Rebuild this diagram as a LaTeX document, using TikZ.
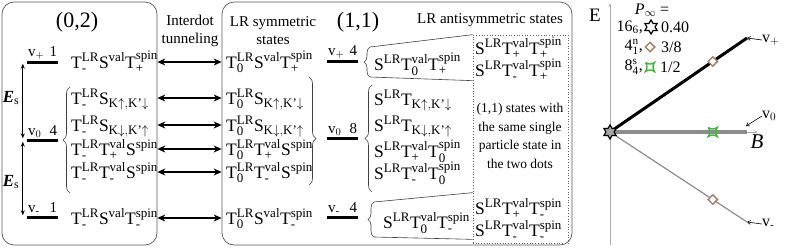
\documentclass[tikz,border=0pt]{standalone}
\usepackage{fix-cm}
\usepackage{amsmath}
\usepackage{fontspec}
\setmainfont{Liberation Serif}
\usepackage{xcolor}
\usepackage{tikz}
\usetikzlibrary{arrows.meta, positioning, shapes.geometric, decorations.pathreplacing, calc}

\DeclareMathSizes{17.5}{17.5}{13}{10}

\definecolor{dmdtan}{HTML}{A4876A}
\definecolor{sqgreen}{HTML}{3DB83D}
\definecolor{linegray}{gray}{0.55}
\definecolor{axisgray}{gray}{0.68}

\newcommand{\rmx}[1]{\text{#1}}
\newcommand{\ud}[3]{\rmx{#1}_{\rmx{#2}}^{\rmx{#3}}}
\newcommand{\uo}[2]{\rmx{#1}^{\rmx{#2}}}

\tikzset{concsq/.pic={\draw[sqgreen, line width=1.4pt, line join=miter]
  (-4.5,-4.5) to[bend right=35] (4.5,-4.5) to[bend right=35] (4.5,4.5)
  to[bend right=35] (-4.5,4.5) to[bend right=35] (-4.5,-4.5);}}

\begin{document}
\begin{tikzpicture}[x=1pt, y=-1pt,
  box/.style={draw=black!65, rounded corners=12pt, line width=0.7pt, inner sep=0pt},
  samebox/.style={draw=black!60, dotted, line width=0.7pt, minimum width=95pt,
                  minimum height=208pt, inner sep=0pt},
  big/.style={font=\fontsize{22}{24}\selectfont, inner sep=0pt},
  hd/.style={font=\fontsize{15}{18}\selectfont, align=center, inner sep=0pt},
  row/.style={anchor=west, inner sep=0pt, text height=12pt, text depth=0pt,
              font=\fontsize{17.5}{19}\selectfont},
  desc/.style={font=\fontsize{13.5}{18.5}\selectfont, align=center, inner sep=0pt},
  lvl/.style={fill=black, minimum width=31pt, minimum height=3pt, inner sep=0pt},
  lvllbl/.style={font=\fontsize{15}{17}\selectfont, inner sep=0.5pt},
  eslbl/.style={font=\fontsize{17}{19}\selectfont, inner sep=0pt},
  lg/.style={font=\fontsize{16}{18}\selectfont, inner sep=0pt},
  dblarr/.style={{Stealth[length=8pt,width=7pt]}-{Stealth[length=8pt,width=7pt]}, line width=2pt},
  esarr/.style={{Stealth[length=5pt,width=4pt]}-{Stealth[length=5pt,width=4pt]}, line width=0.8pt},
  brc/.style={decorate, decoration={brace, amplitude=7pt}, draw=black!75, line width=0.6pt},
  trap/.style={draw=black!75, line width=0.6pt},
  axis/.style={-{Stealth[length=4pt,width=3pt]}, axisgray, line width=0.7pt},
  lblarr/.style={-{Straight Barb[length=3pt,width=4pt]}, line width=0.6pt},
  hexstar/.style={star, star points=6, star point ratio=1.7, minimum size=14pt,
                  inner sep=0pt, draw=black, line width=1.2pt, fill=white},
  dmd/.style={diamond, minimum size=10pt, inner sep=0pt, draw=dmdtan, line width=1.5pt, fill=white}
]
  \useasboundingbox (0,0) rectangle (789,247);

  \node[box, minimum width=155pt, minimum height=243pt] (lbox) at (79.5,123.5) {};
  \node[box, minimum width=350pt, minimum height=243pt] (rbox) at (397,123.5) {};
  \node[samebox] (same) at (520.5,139) {};

  \node[big] (h02) at (77,22) {(0,2)};
  \node[hd] (htun) at (190,31) {Interdot\\tunneling};
  \node[hd] (hsym) at (273,31) {LR symmetric\\states};
  \node[big] (h11) at (358,22) {(1,1)};
  \node[hd] (hasym) at (490,20) {LR antisymmetric states};

  \node[lvl] (lp) at (42.5,62) {};
  \node[lvl] (lz) at (42.5,140) {};
  \node[lvl] (lm) at (42.5,217) {};
  \node[lvllbl, above=0pt of lp] (lpl) {\makebox[29pt]{v$_{+}$\hfill 1}};
  \node[lvllbl, above=0pt of lz] (lzl) {\makebox[29pt]{v$_{0}$\hfill 4}};
  \node[lvllbl, above=0pt of lm] (lml) {\makebox[29pt]{v$_{\text{-}}$\hfill 1}};
  \node[lvl] (mp) at (342.5,61) {};
  \node[lvl] (mz) at (342.5,138) {};
  \node[lvl] (mm) at (342.5,217) {};
  \node[lvllbl, above=0pt of mp] (mpl) {\makebox[29pt]{v$_{+}$\hfill 4}};
  \node[lvllbl, above=0pt of mz] (mzl) {\makebox[29pt]{v$_{0}$\hfill 8}};
  \node[lvllbl, above=0pt of mm] (mml) {\makebox[29pt]{v$_{\text{-}}$\hfill 4}};

  \draw[esarr] ([xshift=-4pt]lp.south west) -- ([xshift=-4pt]lz.north west);
  \draw[esarr] ([xshift=-4pt]lz.south west) -- ([xshift=-4pt]lm.north west);
  \node[eslbl] (es1) at (11,98) {\textbf{\textit{E}}$_{\text{s}}$};
  \node[eslbl] (es2) at (11,182) {\textbf{\textit{E}}$_{\text{s}}$};

  \node[row] (l1) at (71,62) {$\ud{T}{-}{LR}\uo{S}{val}\ud{T}{+}{spin}$};
  \node[row] (l2) at (71,98) {$\ud{T}{-}{LR}\rmx{S}_{\rmx{K}\uparrow,\rmx{K'}\downarrow}$};
  \node[row] (l3) at (71,125) {$\ud{T}{-}{LR}\rmx{S}_{\rmx{K}\downarrow,\rmx{K'}\uparrow}$};
  \node[row] (l4) at (71,149) {$\ud{T}{-}{LR}\ud{T}{+}{val}\uo{S}{spin}$};
  \node[row] (l5) at (71,172) {$\ud{T}{-}{LR}\ud{T}{-}{val}\uo{S}{spin}$};
  \node[row] (l6) at (71,218) {$\ud{T}{-}{LR}\uo{S}{val}\ud{T}{-}{spin}$};

  \node[row] (s1) at (226,62) {$\ud{T}{0}{LR}\uo{S}{val}\ud{T}{+}{spin}$};
  \node[row] (s2) at (226,98) {$\ud{T}{0}{LR}\rmx{S}_{\rmx{K}\uparrow,\rmx{K'}\downarrow}$};
  \node[row] (s3) at (226,125) {$\ud{T}{0}{LR}\rmx{S}_{\rmx{K}\downarrow,\rmx{K'}\uparrow}$};
  \node[row] (s4) at (226,149) {$\ud{T}{0}{LR}\ud{T}{+}{val}\uo{S}{spin}$};
  \node[row] (s5) at (226,172) {$\ud{T}{0}{LR}\ud{T}{-}{val}\uo{S}{spin}$};
  \node[row] (s6) at (226,218) {$\ud{T}{0}{LR}\uo{S}{val}\ud{T}{-}{spin}$};

  \foreach \i in {1,...,6}
    \draw[dblarr] (lbox.east |- l\i) -- (rbox.west |- s\i);

  \node[row] (a1) at (374,64) {$\uo{S}{LR}\ud{T}{0}{val}\ud{T}{+}{spin}$};
  \node[row] (a2) at (374,99) {$\uo{S}{LR}\rmx{T}_{\rmx{K}\uparrow,\rmx{K'}\downarrow}$};
  \node[row] (a3) at (374,125) {$\uo{S}{LR}\rmx{T}_{\rmx{K}\downarrow,\rmx{K'}\uparrow}$};
  \node[row] (a4) at (374,151) {$\uo{S}{LR}\ud{T}{+}{val}\ud{T}{0}{spin}$};
  \node[row] (a5) at (374,173) {$\uo{S}{LR}\ud{T}{-}{val}\ud{T}{0}{spin}$};
  \node[row] (a6) at (383,222) {$\uo{S}{LR}\ud{T}{0}{val}\ud{T}{-}{spin}$};

  \node[row] (d1) at (475,48) {$\uo{S}{LR}\ud{T}{+}{val}\ud{T}{+}{spin}$};
  \node[row] (d2) at (475,70) {$\uo{S}{LR}\ud{T}{-}{val}\ud{T}{+}{spin}$};
  \node[desc] (dtxt) at (520,136) {(1,1) states with\\the same single\\particle state in\\the two dots};
  \node[row] (d3) at (475,208) {$\uo{S}{LR}\ud{T}{+}{val}\ud{T}{-}{spin}$};
  \node[row] (d4) at (475,230) {$\uo{S}{LR}\ud{T}{-}{val}\ud{T}{-}{spin}$};

  \draw[brc] (70,193) -- (70,87);
  \draw[brc, decoration={aspect=0.57}] (309,77) -- (309,185);
  \draw[brc] (372,192) -- (372,85);
  \draw[brc, decoration={amplitude=6pt}] (370,77) -- (370,47);
  \draw[brc, decoration={amplitude=6pt}] (374,237) -- (374,202);
  \draw[trap] (370,47) -- (same.north west);
  \draw[trap] (370,77) -- ($(same.north west)+(0,46)$);
  \draw[trap] (374,202) -- ($(same.north west)+(0,158)$);
  \draw[trap] (374,237) -- ($(same.south west)+(0,-4)$);

  \coordinate (O) at (610,132);
  \coordinate (vpend) at (747,38);
  \coordinate (vzend) at (747,132);
  \coordinate (vmend) at (747,222);
  \coordinate (ebot) at (610,245);
  \coordinate (etop) at (610,3);
  \coordinate (bend) at (758,132);
  \coordinate (vztip) at (746,126);
  \draw[axis] (ebot) -- (etop);
  \draw[axis] (O) -- (bend);
  \draw[line width=3.5pt, linegray] (O) -- (vzend);
  \draw[line width=1.2pt, linegray] (O) -- (vmend);
  \draw[line width=3pt] (O) -- (vpend);
  \node[dmd] (dp) at ($(O)!0.75!(vpend)$) {};
  \node[dmd] (dm) at ($(O)!0.75!(vmend)$) {};
  \pic at ($(O)!0.75!(vzend)$) {concsq};
  \node[hexstar, fill=gray!70] (st) at (O) {};

  \node[lg, font=\fontsize{19}{21}\selectfont] (elbl) at (595,15) {E};
  \node[lg, font=\fontsize{21}{23}\selectfont] (blbl) at (757,142) {\textit{B}};
  \node[lg, anchor=west] (vpl) at (762,40) {v$_{+}$};
  \node[lg, anchor=west] (vzl) at (762,116) {v$_{0}$};
  \node[lg, anchor=west] (vml) at (762,224) {v$_{\text{-}}$};
  \draw[lblarr] (vpl.west) -- (vpend);
  \draw[lblarr] (vzl.west) -- (vztip);
  \draw[lblarr] (vml.west) -- (vmend);

  \node[lg] (pinf) at (652,10) {\textit{P}$_{\infty}$ =};
  \node[lg, anchor=east] (k16) at (643,27) {16$_{\text{6}}$,};
  \node[hexstar] (lst) at (651,27) {};
  \node[lg, anchor=west] (v16) at (661,27) {0.40};
  \node[lg, anchor=east] (k4) at (643,47) {4$_{\text{1}}^{\text{n}}$,};
  \node[dmd] (ldm) at (650,47) {};
  \node[lg, anchor=west] (v4) at (661,47) {3/8};
  \node[lg, anchor=east] (k8) at (643,67) {8$_{\text{4}}^{\text{s}}$,};
  \pic at (650,67) {concsq};
  \node[lg, anchor=west] (v8) at (660,67) {1/2};
\end{tikzpicture}
\end{document}
